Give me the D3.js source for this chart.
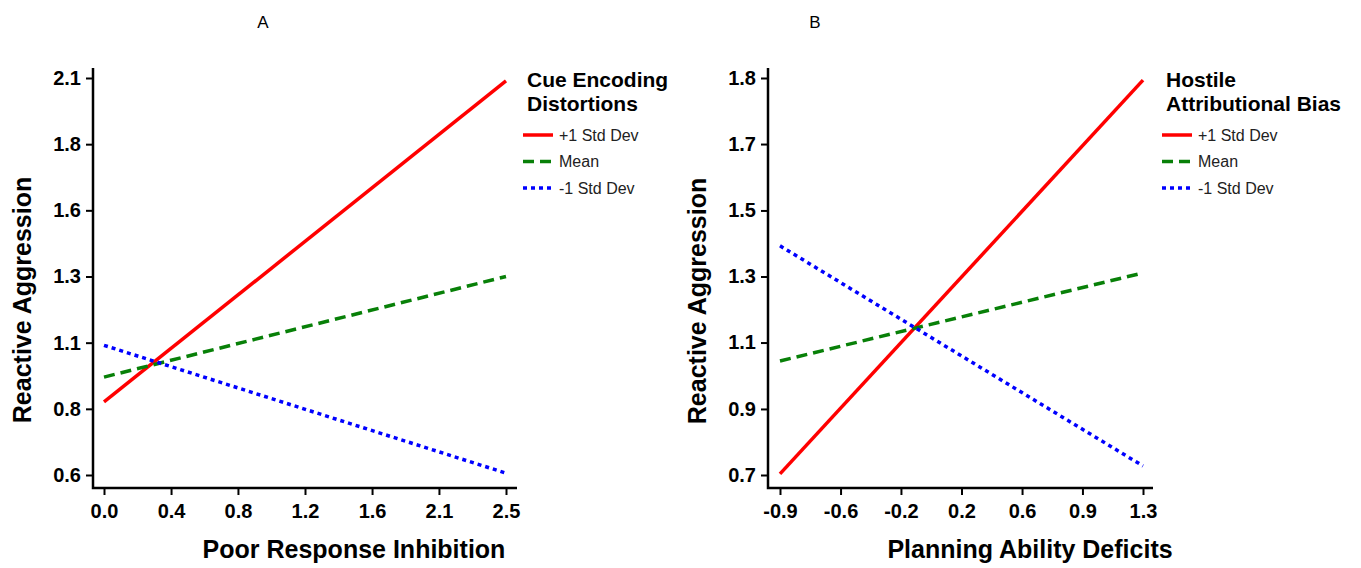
<!DOCTYPE html>
<html>
<head>
<meta charset="utf-8">
<script src="https://cdn.jsdelivr.net/npm/d3@7"></script>
<style>
  body { margin: 0; background: #fff; }
  svg { display: block; font-family: "Liberation Sans", Arial, sans-serif; }
  .tick text { font-weight: bold; font-size: 20px; fill: #000; }
  .tick line { stroke: #000; stroke-width: 2; }
</style>
</head>
<body>
<svg id="chart" width="1361" height="568"></svg>
<script>
// ---- data ----
const seriesNames = ["+1 Std Dev", "Mean", "-1 Std Dev"];
const seriesColors = ["#ff0000", "#088008", "#0000ff"];
const seriesDash = [null, "11,6", "4,4"];

// panel A: Poor Response Inhibition x Cue Encoding Distortions
const xEndsA = [0, 2.5];
const highA = [0.876, 2.089];
const meanA = [0.970, 1.350];
const lowA = [1.090, 0.607];
const xTicksA = [0, 0.417, 0.833, 1.25, 1.667, 2.083, 2.5];
const xTickLabelsA = ["0.0", "0.4", "0.8", "1.2", "1.6", "2.1", "2.5"];
const yTicksA = [0.6, 0.85, 1.1, 1.35, 1.6, 1.85, 2.1];
const yTickLabelsA = ["0.6", "0.8", "1.1", "1.3", "1.6", "1.8", "2.1"];

// panel B: Planning Ability Deficits x Hostile Attributional Bias
const xEndsB = [-0.9, 1.3];
const highB = [0.703, 1.794];
const meanB = [1.016, 1.260];
const lowB = [1.335, 0.725];
const xTicksB = [-0.9, -0.533, -0.167, 0.2, 0.567, 0.933, 1.3];
const xTickLabelsB = ["-0.9", "-0.6", "-0.2", "0.2", "0.6", "0.9", "1.3"];
const yTicksB = [0.7, 0.883, 1.067, 1.25, 1.433, 1.617, 1.8];
const yTickLabelsB = ["0.7", "0.9", "1.1", "1.3", "1.5", "1.7", "1.8"];

const svg = d3.select("#chart");

function drawPanel(opts) {
  const { left, right, top, bottom, xr, yr } = opts;
  const x = d3.scaleLinear().domain(d3.extent(opts.xTicks)).range(xr);
  const y = d3.scaleLinear().domain(d3.extent(opts.yTicks)).range(yr);

  const g = svg.append("g");

  // axes
  const yAxis = d3.axisLeft(y)
    .tickValues(opts.yTicks)
    .tickFormat((d, i) => opts.yLabels[i])
    .tickSize(7)
    .tickPadding(5);
  g.append("g")
    .attr("transform", `translate(${left},0)`)
    .call(yAxis)
    .call(s => s.select(".domain").remove());

  const xAxis = d3.axisBottom(x)
    .tickValues(opts.xTicks)
    .tickFormat((d, i) => opts.xLabels[i])
    .tickSize(7)
    .tickPadding(9);
  g.append("g")
    .attr("transform", `translate(0,${bottom})`)
    .call(xAxis)
    .call(s => s.select(".domain").remove());

  g.append("path")
    .attr("d", `M${left},${top}V${bottom}H${right}`)
    .attr("fill", "none")
    .attr("stroke", "#000")
    .attr("stroke-width", 2.5);

  // lines
  const line = d3.line()
    .x(d => x(d[0]))
    .y(d => y(d[1]));

  opts.series.forEach((vals, i) => {
    g.append("path")
      .datum(opts.xEnds.map((xv, j) => [xv, vals[j]]))
      .attr("d", line)
      .attr("fill", "none")
      .attr("stroke", seriesColors[i])
      .attr("stroke-width", 3.5)
      .attr("stroke-dasharray", seriesDash[i]);
  });

  // axis titles
  g.append("text")
    .attr("x", opts.xTitleX)
    .attr("y", 558)
    .attr("text-anchor", "middle")
    .attr("font-weight", "bold")
    .attr("font-size", 25)
    .text(opts.xTitle);

  g.append("text")
    .attr("transform", `translate(${opts.yTitleX},${opts.yTitleY}) rotate(-90)`)
    .attr("text-anchor", "middle")
    .attr("font-weight", "bold")
    .attr("font-size", 25)
    .text("Reactive Aggression");

  // panel letter
  g.append("text")
    .attr("x", opts.letterX)
    .attr("y", 28)
    .attr("text-anchor", "middle")
    .attr("font-size", 17)
    .text(opts.letter);

  // legend
  const lg = g.append("g").attr("transform", `translate(${opts.legendX},0)`);
  opts.legendTitle.forEach((t, i) => {
    lg.append("text")
      .attr("x", 4)
      .attr("y", 87 + i * 24)
      .attr("font-weight", "bold")
      .attr("font-size", 21)
      .text(t);
  });
  seriesNames.forEach((name, i) => {
    const ly = 135 + i * 26.5;
    lg.append("line")
      .attr("x1", 0).attr("x2", 30)
      .attr("y1", ly).attr("y2", ly)
      .attr("stroke", seriesColors[i])
      .attr("stroke-width", 3.5)
      .attr("stroke-dasharray", seriesDash[i]);
    lg.append("text")
      .attr("x", 36)
      .attr("y", ly)
      .attr("dy", "0.35em")
      .attr("font-size", 16)
      .attr("fill", "#222")
      .text(name);
  });
}

drawPanel({
  left: 93, right: 517, top: 68, bottom: 488,
  xr: [104, 506], yr: [475, 78],
  xEnds: xEndsA, series: [highA, meanA, lowA],
  xTicks: xTicksA, xLabels: xTickLabelsA,
  yTicks: yTicksA, yLabels: yTickLabelsA,
  xTitle: "Poor Response Inhibition", xTitleX: 354,
  yTitleX: 31, yTitleY: 300,
  letter: "A", letterX: 263,
  legendX: 523, legendTitle: ["Cue Encoding", "Distortions"]
});

drawPanel({
  left: 768, right: 1153, top: 68, bottom: 488,
  xr: [780, 1143], yr: [475, 78],
  xEnds: xEndsB, series: [highB, meanB, lowB],
  xTicks: xTicksB, xLabels: xTickLabelsB,
  yTicks: yTicksB, yLabels: yTickLabelsB,
  xTitle: "Planning Ability Deficits", xTitleX: 1030,
  yTitleX: 706, yTitleY: 301,
  letter: "B", letterX: 815,
  legendX: 1162, legendTitle: ["Hostile", "Attributional Bias"]
});
</script>
</body>
</html>
